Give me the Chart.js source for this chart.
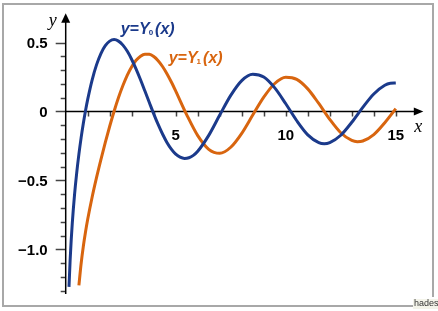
<!DOCTYPE html>
<html>
<head>
<meta charset="utf-8">
<script src="https://cdn.jsdelivr.net/npm/chart.js@4.4.1/dist/chart.umd.min.js"></script>
<style>
  html, body { margin: 0; padding: 0; background: #fff; }
  #wrap { width: 438px; height: 311px; }
</style>
</head>
<body>
<div id="wrap"><canvas id="besselChart" width="438" height="311"></canvas></div>
<script>
// values (Y0 and Y1 Bessel curves)
const xY0 = [0.15, 0.2, 0.25, 0.3, 0.4, 0.5, 0.6, 0.7, 0.8, 0.9, 1.0, 1.2, 1.4, 1.6, 1.8, 2.0, 2.2, 2.4, 2.6, 2.8,
  3.0, 3.2, 3.4, 3.6, 3.8, 4.0, 4.2, 4.4, 4.6, 4.8, 5.0, 5.2, 5.4, 5.6, 5.8, 6.0, 6.5, 7.0, 7.5, 8.0, 8.5, 9.0,
  9.5, 10, 10.5, 11, 11.5, 11.75, 12, 12.5, 13, 13.5, 14, 14.5, 14.75, 15];
const valuesY0 = [-1.271, -1.081, -0.932, -0.807, -0.606, -0.445, -0.309, -0.191, -0.087, 0.006, 0.088, 0.228,
  0.338, 0.420, 0.477, 0.510, 0.521, 0.510, 0.481, 0.436, 0.377, 0.307, 0.230, 0.148, 0.065, -0.017, -0.094,
  -0.163, -0.224, -0.272, -0.309, -0.331, -0.340, -0.335, -0.318, -0.288, -0.173, -0.026, 0.117, 0.224, 0.270,
  0.250, 0.171, 0.056, -0.067, -0.169, -0.225, -0.233, -0.225, -0.172, -0.078, 0.030, 0.127, 0.190, 0.204, 0.206];

const xY1 = [0.6, 0.7, 0.8, 0.9, 1.0, 1.2, 1.4, 1.6, 1.8, 2.0, 2.2, 2.4, 2.6, 2.8, 3.0, 3.2, 3.4, 3.6, 3.8, 4.0,
  4.2, 4.4, 4.6, 4.8, 5.0, 5.5, 6.0, 6.5, 7.0, 7.5, 8.0, 8.5, 9.0, 9.5, 10, 10.5, 11, 11.5, 12, 12.5, 13, 13.25,
  13.5, 14, 14.5, 15];
const valuesY1 = [-1.260, -1.103, -0.978, -0.873, -0.781, -0.621, -0.479, -0.348, -0.224, -0.107, 0.002, 0.101,
  0.188, 0.264, 0.325, 0.371, 0.401, 0.415, 0.414, 0.398, 0.368, 0.326, 0.274, 0.214, 0.148, -0.024, -0.175,
  -0.274, -0.303, -0.259, -0.158, -0.026, 0.104, 0.203, 0.249, 0.233, 0.164, 0.058, -0.057, -0.154, -0.210,
  -0.219, -0.214, -0.167, -0.081, 0.021];

const xTicks = [1, 2, 3, 4, 5, 6, 7, 8, 9, 10, 11, 12, 13, 14, 15];
const xTickLabels = [5, 10, 15];
const yTicks = [-1.3, -1.2, -1.1, -1.0, -0.9, -0.8, -0.7, -0.6, -0.5, -0.4, -0.3, -0.2, -0.1, 0, 0.1, 0.2, 0.3, 0.4, 0.5];
const yTickLabels = [0.5, 0, -0.5, -1.0];
const yLabelText = ["0.5", "0", "\u22120.5", "\u22121.0"];

const BLUE = "#1b3a8b";
const ORANGE = "#d8650f";

function toPoints(xs, ys) {
  return xs.map((x, i) => ({ x: x, y: ys[i] }));
}

// label like y=Y0(x) with a small subscript
function drawCurveLabel(ctx, x, y, sub, color) {
  const big = "italic bold 16px 'Liberation Sans', Arial, sans-serif";
  ctx.save();
  ctx.fillStyle = color;
  ctx.textBaseline = "alphabetic";
  ctx.textAlign = "left";
  ctx.font = big;
  let cx = x;
  ctx.fillText("y=Y", cx, y);
  cx += ctx.measureText("y=Y").width;
  ctx.font = "bold 8px 'Liberation Sans', Arial, sans-serif";
  ctx.fillText(sub, cx - 1, y + 1);
  cx += ctx.measureText(sub).width + 1;
  ctx.font = big;
  ctx.fillText("(x)", cx, y);
  ctx.restore();
}

const axesPlugin = {
  id: "axesPlugin",
  beforeDatasetsDraw(chart) {
    const ctx = chart.ctx;
    const xs = chart.scales.x;
    const ys = chart.scales.y;
    const x0 = xs.getPixelForValue(0);
    const y0 = ys.getPixelForValue(0);
    const area = chart.chartArea;

    ctx.save();
    // frame
    ctx.strokeStyle = "#a8a8a8";
    ctx.lineWidth = 2;
    ctx.beginPath();
    ctx.moveTo(414, 306);
    ctx.lineTo(3, 306);
    ctx.lineTo(3, 4);
    ctx.lineTo(433, 4);
    ctx.lineTo(433, 297);
    ctx.stroke();

    // ticks
    ctx.strokeStyle = "#444";
    ctx.lineWidth = 1.5;
    ctx.beginPath();
    xTicks.forEach(v => {
      const px = Math.round(xs.getPixelForValue(v)) + 0.5;
      ctx.moveTo(px, y0);
      ctx.lineTo(px, y0 + 5);
    });
    yTicks.forEach(v => {
      const py = Math.round(ys.getPixelForValue(v)) + 0.5;
      const len = yTickLabels.some(t => Math.abs(t - v) < 1e-6) ? 10 : 5;
      ctx.moveTo(x0, py);
      ctx.lineTo(x0 - len, py);
    });
    ctx.stroke();

    // axis lines
    ctx.strokeStyle = "#000";
    ctx.lineWidth = 1.5;
    ctx.beginPath();
    ctx.moveTo(x0, area.bottom);
    ctx.lineTo(x0, area.top + 8);
    ctx.moveTo(x0, y0);
    ctx.lineTo(area.right - 8, y0);
    ctx.stroke();

    // arrows
    ctx.fillStyle = "#000";
    ctx.beginPath();
    ctx.moveTo(x0, area.top);
    ctx.lineTo(x0 - 4.5, area.top + 9.5);
    ctx.lineTo(x0 + 4.5, area.top + 9.5);
    ctx.closePath();
    ctx.fill();
    ctx.beginPath();
    ctx.moveTo(area.right, y0);
    ctx.lineTo(area.right - 9.5, y0 - 4);
    ctx.lineTo(area.right - 9.5, y0 + 4);
    ctx.closePath();
    ctx.fill();

    // tick labels
    ctx.font = "bold 15px 'Liberation Sans', Arial, sans-serif";
    ctx.fillStyle = "#000";
    ctx.textAlign = "center";
    ctx.textBaseline = "middle";
    xTickLabels.forEach(v => {
      ctx.fillText(String(v), xs.getPixelForValue(v), y0 + 24);
    });
    ctx.textAlign = "right";
    yTickLabels.forEach((v, i) => {
      ctx.fillText(yLabelText[i], x0 - 18, ys.getPixelForValue(v) + 1);
    });

    // axis names
    ctx.font = "italic 18px 'Liberation Serif', 'Times New Roman', serif";
    ctx.textAlign = "center";
    ctx.fillText("y", x0 - 13, area.top + 8);
    ctx.fillText("x", area.right - 5, y0 + 16);

    // curve labels
    drawCurveLabel(ctx, xs.getPixelForValue(2.5), ys.getPixelForValue(0.56), "0", BLUE);
    drawCurveLabel(ctx, xs.getPixelForValue(4.68), ys.getPixelForValue(0.352), "1", ORANGE);

    // small credit
    ctx.fillStyle = "#f4f4ea";
    ctx.fillRect(413, 299, 25, 10);
    ctx.fillStyle = "#333";
    ctx.font = "9px 'Liberation Sans', Arial, sans-serif";
    ctx.textAlign = "left";
    ctx.textBaseline = "middle";
    ctx.fillText("hades", 414, 304);
    ctx.restore();
  }
};

new Chart("besselChart", {
  type: "line",
  data: {
    datasets: [
      {
        label: "Y0",
        data: toPoints(xY0, valuesY0),
        borderColor: BLUE,
        borderWidth: 3,
        pointRadius: 0,
        cubicInterpolationMode: "monotone",
        fill: false
      },
      {
        label: "Y1",
        data: toPoints(xY1, valuesY1),
        borderColor: ORANGE,
        borderWidth: 3,
        pointRadius: 0,
        cubicInterpolationMode: "monotone",
        fill: false
      }
    ]
  },
  options: {
    responsive: false,
    animation: false,
    events: [],
    layout: { padding: { left: 65.7, right: 14.7, top: 13.3, bottom: 17 } },
    plugins: { legend: { display: false }, tooltip: { enabled: false } },
    scales: {
      x: { type: "linear", min: 0, max: 16.25, display: false },
      y: { type: "linear", min: -1.3225, max: 0.7116, display: false }
    }
  },
  plugins: [axesPlugin]
});
</script>
</body>
</html>
